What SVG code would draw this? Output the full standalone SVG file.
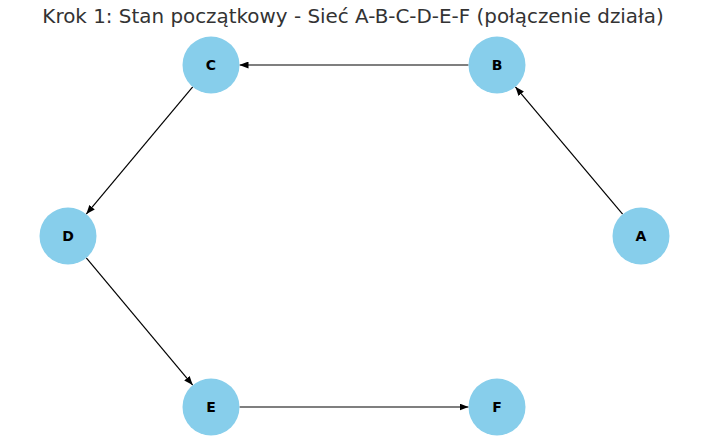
<svg xmlns="http://www.w3.org/2000/svg" width="703" height="447" viewBox="0 0 703 447">
  <style>
    .node circle { fill: #87CEEB; }
    .node text { font-family: "DejaVu Sans", sans-serif; font-weight: bold; font-size: 14px; fill: #000; text-anchor: middle; dominant-baseline: central; }
    .edges line { stroke: #000; stroke-width: 1.2; marker-end: url(#arrow); }
    .title { font-family: "DejaVu Sans", sans-serif; font-size: 19.9px; fill: #333; text-anchor: middle; }
  </style>
  <defs>
    <marker id="arrow" markerWidth="9" markerHeight="7" refX="9" refY="3.5" orient="auto" markerUnits="userSpaceOnUse">
      <path d="M0,0 L9,3.5 L0,7 Z" fill="#000"/>
    </marker>
  </defs>
  <rect width="703" height="447" fill="#fff"/>
  <text class="title" x="353" y="23">Krok 1: Stan początkowy - Sieć A-B-C-D-E-F (połączenie działa)</text>
  <g class="edges">
    <line x1="622.6" y1="214.2" x2="515.4" y2="86.8"/>
    <line x1="468.5" y1="65" x2="239.5" y2="65"/>
    <line x1="192.7" y1="86.9" x2="86.3" y2="214.1"/>
    <line x1="86.3" y1="257.9" x2="192.7" y2="385.1"/>
    <line x1="239.5" y1="407" x2="468.5" y2="407"/>
  </g>
  <g id="node-A" class="node"><circle cx="641" cy="236" r="28.5"/><text x="641" y="236">A</text></g>
  <g id="node-B" class="node"><circle cx="497" cy="65" r="28.5"/><text x="497" y="65">B</text></g>
  <g id="node-C" class="node"><circle cx="211" cy="65" r="28.5"/><text x="211" y="65">C</text></g>
  <g id="node-D" class="node"><circle cx="68" cy="236" r="28.5"/><text x="68" y="236">D</text></g>
  <g id="node-E" class="node"><circle cx="211" cy="407" r="28.5"/><text x="211" y="407">E</text></g>
  <g id="node-F" class="node"><circle cx="497" cy="407" r="28.5"/><text x="497" y="407">F</text></g>
</svg>
